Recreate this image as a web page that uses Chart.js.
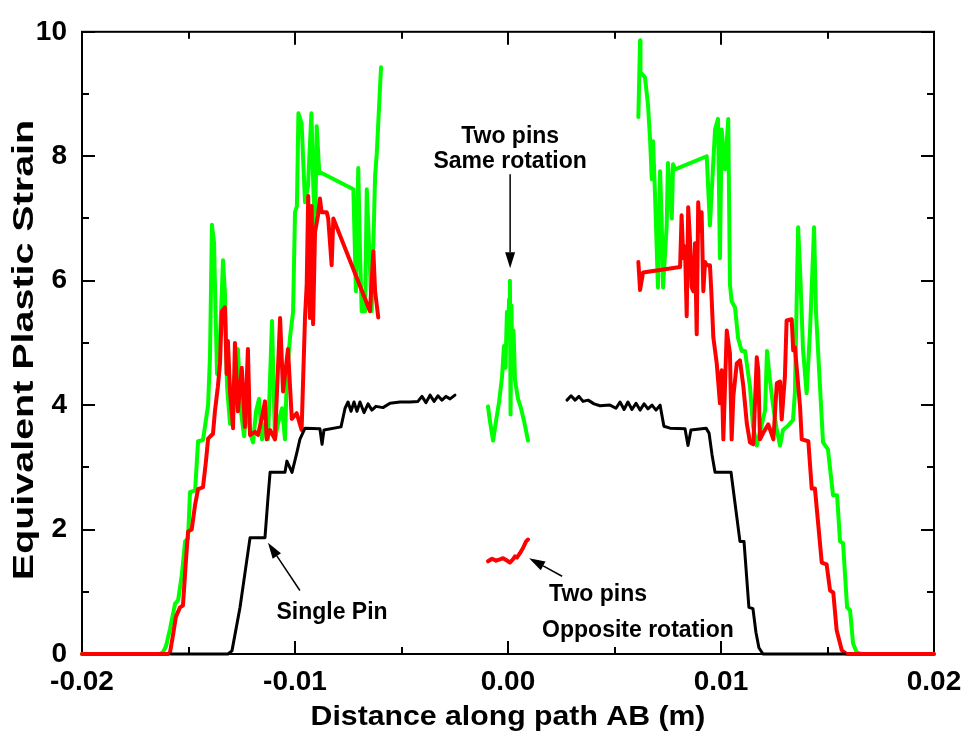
<!DOCTYPE html>
<html><head><meta charset="utf-8">
<script src="https://cdn.jsdelivr.net/npm/chart.js@4.4.1/dist/chart.umd.min.js"></script>
<style>html,body{margin:0;padding:0;background:#fff;}canvas{display:block;}</style>
</head><body>
<canvas id="c" width="974" height="740"></canvas>
<script>
// ---------- data (x in m, y = equivalent plastic strain) ----------
const xTickValues = [-0.02, -0.01, 0, 0.01, 0.02];
const xTickMarks  = [-0.02, -0.015, -0.01, -0.005, 0, 0.005, 0.01, 0.015, 0.02];
const yTickValues = [0, 2, 4, 6, 8, 10];
const yTickMarks  = [0,1,2,3,4,5,6,7,8,9,10];
const xTitle = 'Distance along path AB (m)';
const yTitle = 'Equivalent Plastic Strain';

const singlePinLeft = [
 [-0.01582,0],[-0.01315,0],[-0.01296,0.05],[-0.01277,0.4],[-0.01258,0.75],[-0.01235,1.3],[-0.01211,1.87],
 [-0.01141,1.87],[-0.01127,2.5],[-0.01117,2.92],[-0.01047,2.92],[-0.01038,3.1],[-0.01014,2.92],[-0.00991,3.24],
 [-0.00977,3.45],[-0.00953,3.63],[-0.00883,3.62],[-0.00873,3.37],[-0.00864,3.6],[-0.00784,3.65],[-0.00765,3.95],
 [-0.00751,4.05],[-0.00737,3.9],[-0.00723,4.05],[-0.00709,3.9],[-0.00695,4.05],[-0.00676,3.88],[-0.00657,4.02],
 [-0.00639,3.92],[-0.00620,3.98],[-0.00587,3.96],[-0.00554,4.03],[-0.00507,4.05],[-0.00460,4.05],[-0.00423,4.06],
 [-0.00404,4.14],[-0.00385,4.04],[-0.00366,4.16],[-0.00347,4.06],[-0.00329,4.15],[-0.00310,4.08],[-0.00291,4.14],
 [-0.00272,4.1],[-0.00249,4.16]
];
const singlePinRight = [
 [0.00277,4.08],[0.00296,4.15],[0.00315,4.08],[0.00333,4.14],[0.00352,4.06],[0.00376,4.08],[0.00404,4.02],
 [0.00432,3.99],[0.00479,4.0],[0.00507,3.95],[0.00526,4.05],[0.00545,3.93],[0.00563,4.05],[0.00582,3.93],
 [0.00601,4.03],[0.00620,3.92],[0.00639,4.02],[0.00657,3.94],[0.00676,4.0],[0.00695,3.92],[0.00714,4.0],
 [0.00732,3.66],[0.00761,3.63],[0.00831,3.62],[0.00845,3.35],[0.00859,3.6],[0.00930,3.63],[0.00944,3.55],
 [0.00958,3.2],[0.00972,2.92],[0.01047,2.92],[0.01089,1.81],[0.01108,1.81],[0.01131,0.75],[0.01150,0.73],
 [0.01164,0.35],[0.01178,0.1],[0.01197,0],[0.01582,0]
];
const sameRotLeft = [
 [-0.02,0],[-0.01634,0],[-0.01620,0.03],[-0.01606,0.12],[-0.01587,0.4],[-0.01563,0.81],[-0.01549,0.86],
 [-0.01531,1.28],[-0.01516,1.81],[-0.01502,1.86],[-0.01493,2.6],[-0.01469,2.63],[-0.01455,3.42],[-0.01432,3.44],
 [-0.01408,4.0],[-0.01399,4.8],[-0.01390,6.9],[-0.01380,6.6],[-0.01373,5.5],[-0.01366,4.5],[-0.01357,4.7],
 [-0.01347,5.5],[-0.01338,6.33],[-0.01329,5.8],[-0.01319,4.3],[-0.01305,3.7],[-0.01291,4.3],[-0.01277,4.6],
 [-0.01268,4.9],[-0.01254,3.9],[-0.01239,3.5],[-0.01225,4.1],[-0.01211,3.55],[-0.01197,3.4],[-0.01183,3.9],
 [-0.01169,4.1],[-0.01155,3.45],[-0.01141,3.7],[-0.01127,3.45],[-0.01108,5.35],[-0.01094,3.45],[-0.01080,3.7],
 [-0.01061,3.95],[-0.01047,3.45],[-0.01038,4.5],[-0.01023,5.1],[-0.01009,5.5],[-0.01000,7.1],[-0.00991,7.2],
 [-0.00984,8.69],[-0.00969,8.53],[-0.00953,7.26],[-0.00939,7.52],[-0.00923,8.69],[-0.00914,7.52],[-0.00906,6.73],
 [-0.00898,8.48],[-0.00886,7.73],[-0.00875,7.73],[-0.00726,7.47],[-0.00714,5.83],[-0.00703,7.81],[-0.00695,6.47],
 [-0.00687,5.51],[-0.00671,5.51],[-0.00663,7.47],[-0.00656,6.89],[-0.00640,5.51],[-0.00624,7.68],[-0.00616,8.05],
 [-0.00601,9.1],[-0.00596,9.43]
];
const sameRotCenter = [
 [-0.00094,3.98],[-0.00085,3.75],[-0.00070,3.43],[-0.00056,3.75],[-0.00042,4.05],[-0.00028,4.45],[-0.00019,4.95],
 [-0.00012,4.6],[-0.00005,5.5],[0.0,5.1],[0.00005,5.7],[0.00009,6.0],[0.00012,3.85],[0.00016,5.6],[0.00021,4.6],
 [0.00026,5.2],[0.00033,4.4],[0.00047,4.1],[0.00061,3.95],[0.00075,3.75],[0.00094,3.43]
];
const sameRotRight = [
 [0.00612,8.63],[0.00620,9.86],[0.00622,9.35],[0.00643,9.27],[0.00657,8.84],[0.00667,8.27],[0.00675,7.63],
 [0.00681,8.24],[0.00690,7.41],[0.00704,5.89],[0.00714,7.76],[0.00722,6.89],[0.00728,5.89],[0.00745,6.89],
 [0.00751,7.89],[0.00769,7.0],[0.00775,7.87],[0.00784,7.79],[0.00933,8.0],[0.00948,6.89],[0.00972,8.43],
 [0.00986,8.6],[0.00995,6.36],[0.01003,8.43],[0.01019,7.79],[0.01034,8.6],[0.01042,5.94],[0.01050,5.67],
 [0.01066,5.57],[0.01080,5.08],[0.01097,4.87],[0.01113,4.87],[0.01121,4.67],[0.01136,4.3],[0.01150,3.67],
 [0.01168,3.35],[0.01183,3.56],[0.01207,3.92],[0.01216,4.87],[0.01230,4.4],[0.01244,4.0],[0.01262,3.6],
 [0.01277,3.35],[0.01291,3.6],[0.01315,3.67],[0.01338,3.76],[0.01347,4.2],[0.01362,6.86],[0.01371,6.2],
 [0.01385,4.9],[0.01402,4.19],[0.01418,5.2],[0.01437,6.86],[0.01446,5.5],[0.01460,4.6],[0.01479,3.4],
 [0.01502,3.29],[0.01526,2.55],[0.01545,2.55],[0.01559,1.81],[0.01573,1.78],[0.01592,0.75],[0.01606,0.7],
 [0.01620,0.17],[0.01638,0.02],[0.01662,0],[0.02,0]
];
const oppRotLeft = [
 [-0.02,0],[-0.01596,0],[-0.01587,0.02],[-0.01573,0.3],[-0.01559,0.6],[-0.01540,0.75],[-0.01526,0.78],
 [-0.01512,1.5],[-0.01502,1.97],[-0.01485,2.0],[-0.01469,2.4],[-0.01455,2.65],[-0.01432,2.68],[-0.01418,3.1],
 [-0.01408,3.46],[-0.01385,3.54],[-0.01376,3.9],[-0.01362,4.3],[-0.01352,4.67],[-0.01344,5.5],[-0.01329,5.57],
 [-0.01321,4.5],[-0.01315,5.03],[-0.01305,4.22],[-0.01291,3.63],[-0.01282,5.0],[-0.01268,3.9],[-0.01250,4.6],
 [-0.01235,3.65],[-0.01221,4.9],[-0.01211,3.52],[-0.01188,3.57],[-0.01174,3.52],[-0.01155,3.8],[-0.01141,4.06],
 [-0.01133,3.45],[-0.01117,3.6],[-0.01094,3.45],[-0.01070,5.4],[-0.01056,4.22],[-0.01033,4.9],[-0.01015,3.78],
 [-0.00992,3.87],[-0.00969,3.6],[-0.00953,5.41],[-0.00945,5.94],[-0.00938,7.36],[-0.00930,5.4],[-0.00922,7.2],
 [-0.00915,5.3],[-0.00906,6.78],[-0.00892,7.05],[-0.00883,7.32],[-0.00875,7.1],[-0.00851,7.1],[-0.00844,7.0],
 [-0.00828,6.25],[-0.00820,7.0],[-0.00648,5.51],[-0.00632,6.47],[-0.00624,5.83],[-0.00609,5.41]
];
const oppRotCenter = [
 [-0.00094,1.49],[-0.00075,1.53],[-0.00056,1.5],[-0.00038,1.52],[-0.00023,1.54],[-0.00009,1.51],[0.00009,1.47],
 [0.00023,1.52],[0.00033,1.57],[0.00042,1.55],[0.00056,1.62],[0.00070,1.7],[0.00085,1.81],[0.00094,1.84]
];
const oppRotRight = [
 [0.00612,6.3],[0.00620,5.85],[0.00634,6.13],[0.00808,6.22],[0.00815,7.05],[0.00823,6.36],[0.00831,6.55],
 [0.00839,5.43],[0.00846,7.18],[0.00854,6.68],[0.00862,5.9],[0.00870,5.83],[0.00878,6.6],[0.00886,5.14],
 [0.00893,7.26],[0.00901,6.8],[0.00909,7.1],[0.00917,5.83],[0.00925,6.3],[0.00933,6.25],[0.00940,6.25],
 [0.00948,6.25],[0.00955,5.8],[0.00964,5.09],[0.00980,4.67],[0.00995,4.03],[0.01003,4.56],[0.01011,3.45],
 [0.01027,5.2],[0.01042,4.83],[0.01050,3.45],[0.01058,4.14],[0.01074,4.67],[0.01089,4.72],[0.01105,4.3],
 [0.01121,3.71],[0.01136,3.4],[0.01152,3.37],[0.01168,4.77],[0.01175,4.56],[0.01183,3.45],[0.01199,3.56],
 [0.01222,3.69],[0.01246,3.45],[0.01262,4.35],[0.01277,4.38],[0.01285,3.77],[0.01300,4.46],[0.01308,5.36],
 [0.01332,5.38],[0.01339,4.88],[0.01347,4.93],[0.01371,3.98],[0.01379,3.45],[0.01410,3.42],[0.01426,2.66],
 [0.01441,2.66],[0.01473,1.47],[0.01496,1.44],[0.01512,1.02],[0.01527,0.99],[0.01543,0.38],[0.01567,0.06],
 [0.01590,0],[0.02,0]
];

// annotation texts, anchored in data units
const annotations = [
 {lines:["Two pins","Same rotation"], x:0.0001, y:[8.32,7.92]},
 {lines:["Single Pin"], x:-0.00826, y:[0.67]},
 {lines:["Two pins"], x:0.00423, y:[0.95]},
 {lines:["Opposite rotation"], x:0.0061, y:[0.38]}
];
const arrows = [
 {from:[0.0001,7.71], to:[0.0001,6.2]},
 {from:[-0.00977,1.02], to:[-0.01127,1.79]},
 {from:[0.00254,1.25], to:[0.00099,1.54]}
];

// ---------- chart ----------
const FONT = "'Liberation Sans', Arial, sans-serif";
const toXY = arr => arr.map(p => ({x:p[0], y:p[1]}));
function ds(arr, color, width, order){
  return {data:toXY(arr), borderColor:color, backgroundColor:color, borderWidth:width,
          showLine:true, pointRadius:0, pointHoverRadius:0, fill:false, tension:0,
          borderJoinStyle:'round', borderCapStyle:'round', order:order, clip:6};
}
const GREEN='#00ff00', RED='#ff0000', BLACK='#000000';

const framePlugin = {
  id:'frame',
  beforeDatasetsDraw(chart){
    const {ctx, chartArea:a, scales:{x,y}} = chart;
    ctx.save();
    ctx.strokeStyle='#000'; ctx.lineWidth=2; ctx.lineCap='butt';
    ctx.strokeRect(a.left, a.top, a.right-a.left, a.bottom-a.top);
    ctx.beginPath();
    xTickMarks.forEach(v=>{
      const px = Math.round(x.getPixelForValue(v));
      const major = xTickValues.some(t=>Math.abs(t-v)<1e-9);
      const len = major ? 13 : 7;
      ctx.moveTo(px, a.bottom); ctx.lineTo(px, a.bottom-len);
      ctx.moveTo(px, a.top); ctx.lineTo(px, a.top+len);
    });
    yTickMarks.forEach(v=>{
      const py = Math.round(y.getPixelForValue(v));
      const major = yTickValues.includes(v);
      const len = major ? 13 : 7;
      ctx.moveTo(a.left, py); ctx.lineTo(a.left+len, py);
      ctx.moveTo(a.right, py); ctx.lineTo(a.right-len, py);
    });
    ctx.stroke();
    ctx.restore();
  }
};
// axis titles (drawn with a slight stretch along the text direction, as in the source)
const titlePlugin = {
  id:'titles',
  afterDraw(chart){
    const {ctx, chartArea:a} = chart;
    ctx.save();
    ctx.fillStyle='#000';
    ctx.font = "bold 27px " + FONT;
    ctx.textAlign='center'; ctx.textBaseline='alphabetic';
    ctx.save();
    ctx.translate((a.left+a.right)/2, 725);
    ctx.scale(1.12, 1);
    ctx.fillText(xTitle, 0, 0);
    ctx.restore();
    ctx.save();
    ctx.font = "bold 29px " + FONT;
    ctx.translate(33, 350);
    ctx.rotate(-Math.PI/2);
    ctx.scale(1.36, 1);
    ctx.fillText(yTitle, 0, 0);
    ctx.restore();
    ctx.restore();
  }
};
const annoPlugin = {
  id:'anno',
  afterDatasetsDraw(chart){
    const {ctx, scales:{x,y}} = chart;
    ctx.save();
    ctx.fillStyle='#000'; ctx.strokeStyle='#000';
    ctx.font = "bold 23px " + FONT;
    ctx.textAlign='center'; ctx.textBaseline='middle';
    annotations.forEach(a=>{
      a.lines.forEach((t,i)=>ctx.fillText(t, x.getPixelForValue(a.x), y.getPixelForValue(a.y[i])));
    });
    arrows.forEach(ar=>{
      const x1=x.getPixelForValue(ar.from[0]), y1=y.getPixelForValue(ar.from[1]);
      const x2=x.getPixelForValue(ar.to[0]), y2=y.getPixelForValue(ar.to[1]);
      const ang=Math.atan2(y2-y1,x2-x1), L=16, W=5;
      const bx=x2-L*Math.cos(ang), by=y2-L*Math.sin(ang);
      ctx.lineWidth=1.5;
      ctx.beginPath(); ctx.moveTo(x1,y1); ctx.lineTo(bx,by); ctx.stroke();
      ctx.beginPath(); ctx.moveTo(x2,y2);
      ctx.lineTo(bx+W*Math.sin(ang), by-W*Math.cos(ang));
      ctx.lineTo(bx-W*Math.sin(ang), by+W*Math.cos(ang));
      ctx.closePath(); ctx.fill();
    });
    ctx.restore();
  }
};

new Chart(document.getElementById('c'), {
  type:'scatter',
  data:{datasets:[
    ds(singlePinLeft, BLACK, 3, 1), ds(singlePinRight, BLACK, 3, 1),
    ds(oppRotLeft, RED, 4, 2), ds(oppRotCenter, RED, 4, 2), ds(oppRotRight, RED, 4, 2),
    ds(sameRotLeft, GREEN, 4, 3), ds(sameRotCenter, GREEN, 4, 3), ds(sameRotRight, GREEN, 4, 3)
  ]},
  options:{
    responsive:false, devicePixelRatio:1, animation:false,
    layout:{padding:{left:0,right:40,top:24,bottom:0}},
    plugins:{legend:{display:false}, tooltip:{enabled:false}},
    scales:{
      x:{type:'linear', min:-0.02, max:0.02,
         afterBuildTicks(s){ s.ticks = xTickValues.map(v=>({value:v})); },
         afterFit(s){ s.height = 86; },
         grid:{display:false, drawTicks:false}, border:{display:false},
         ticks:{color:'#000', padding:11, maxRotation:0, autoSkip:false,
                font:{family:FONT, size:28, weight:'bold'},
                callback:v=> (Math.abs(v)<1e-9 ? 0 : v).toFixed(2)},
         title:{display:false}
      },
      y:{type:'linear', min:0, max:10,
         afterBuildTicks(s){ s.ticks = yTickValues.map(v=>({value:v})); },
         afterFit(s){ s.width = 82; },
         grid:{display:false, drawTicks:false}, border:{display:false},
         ticks:{color:'#000', padding:15, font:{family:FONT, size:28, weight:'bold'}},
         title:{display:false}
      }
    }
  },
  plugins:[framePlugin, annoPlugin, titlePlugin]
});
</script>
</body></html>
